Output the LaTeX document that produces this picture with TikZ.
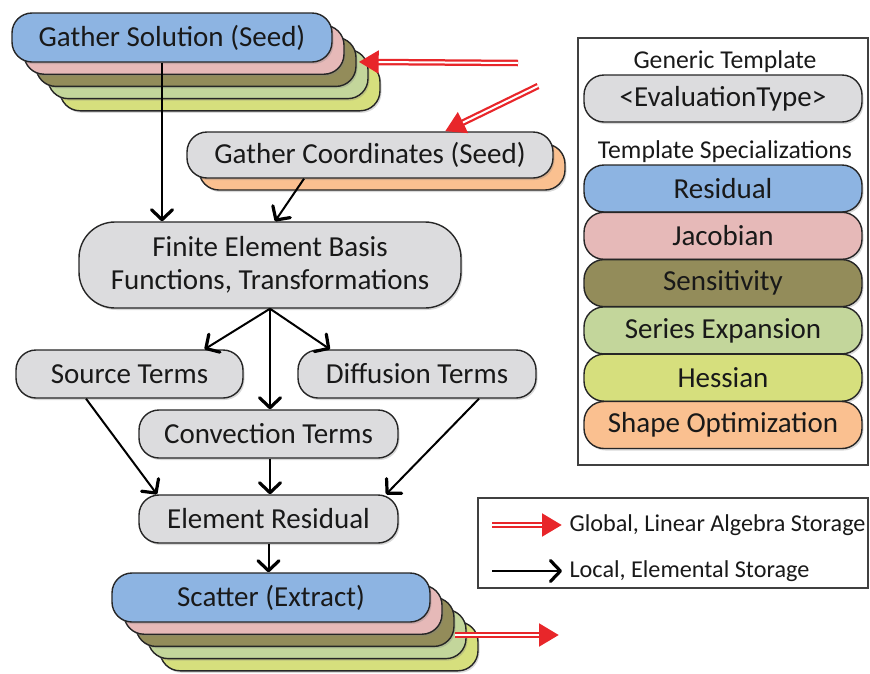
\documentclass[tikz,border=0pt]{standalone}
\usepackage{fontspec}
\setmainfont{Carlito}
\usetikzlibrary{arrows.meta,shadows}
\definecolor{cblue}{HTML}{8DB4E2}
\definecolor{cpink}{HTML}{E6B9B8}
\definecolor{colive}{HTML}{938C5A}
\definecolor{cgreen}{HTML}{C3D69B}
\definecolor{cyellow}{HTML}{D6DF7D}
\definecolor{cpeach}{HTML}{FAC090}
\definecolor{cgray}{HTML}{DCDCDE}
\definecolor{cred}{HTML}{E8262A}
\newcommand\dblred[2]{%
  \draw[cred, line width=6.5pt, -{Triangle[length=20pt,width=22pt]}] (#1) -- (#2);
  \draw[white, line width=2pt, shorten >=20pt] (#1) -- (#2);}
\begin{document}
\begin{tikzpicture}[x=1pt,y=-1pt,
  pill/.style={draw=black!85, line width=1.4pt, rounded corners=20pt, inner sep=0pt,
     font=\fontsize{29}{33}\selectfont, text=black!90,
     drop shadow={shadow xshift=1.5pt,shadow yshift=-2pt,opacity=0.3}},
  lpill/.style={pill, minimum width=278pt, minimum height=47pt},
  blk/.style={draw=black, line width=2pt, -{Straight Barb[length=10pt,width=21pt,line width=3.2pt,round]}},
  hdr/.style={font=\fontsize{25.7}{30}\selectfont, text=black!90},
  leg/.style={font=\fontsize{24.2}{28}\selectfont, text=black!90, anchor=west},
  frame/.style={draw=black!75, line width=1.3pt}]
\useasboundingbox (0,0) rectangle (870,673);

% Gather Solution stack
\foreach \k/\c in {4/cyellow,3/cgreen,2/colive,1/cpink}{
  \node[pill, fill=\c, minimum width=320pt, minimum height=49pt] (gs\k) at (172+12*\k,37.5+12.2*\k) {};
}
\node[pill, fill=cblue, minimum width=320pt, minimum height=49pt] (gs) at (172,37.5) {Gather Solution (Seed)};

% Gather Coordinates
\node[pill, fill=cpeach, minimum width=366pt, minimum height=46pt] (gc1) at (382,167) {};
\node[pill, fill=cgray, minimum width=366pt, minimum height=46pt] (gc) at (370,155) {Gather Coordinates (Seed)};

% Finite element
\node[pill, fill=cgray, rounded corners=36pt, minimum width=382pt, minimum height=86pt, align=center] (fe) at (270,265)
  {Finite Element Basis\\Functions, Transformations};

\node[pill, fill=cgray, minimum width=227pt, minimum height=48pt] (src) at (129.5,374) {Source Terms};
\node[pill, fill=cgray, minimum width=238pt, minimum height=48pt] (dif) at (417,374) {Diffusion Terms};
\node[pill, fill=cgray, minimum width=259pt, minimum height=48pt] (conv) at (268.5,434) {Convection Terms};
\node[pill, fill=cgray, minimum width=259pt, minimum height=48pt] (er) at (268.5,519) {Element Residual};

% Scatter stack
\foreach \k/\c in {4/cyellow,3/cgreen,2/colive,1/cpink}{
  \node[pill, fill=\c, minimum width=318pt, minimum height=49pt] (sc\k) at (271+12*\k,597.5+12.2*\k) {};
}
\node[pill, fill=cblue, minimum width=318pt, minimum height=49pt] (sc) at (271,597.5) {Scatter (Extract)};

% black connectors
\draw[blk] ([xshift=-10pt]gs.south) -- ([xshift=-10pt]gs.south |- fe.north);
\draw[blk] ([xshift=-66pt]gc.south) -- ([xshift=5pt]fe.north);
\draw[blk] (fe.south) -- ([xshift=75pt]src.north);
\draw[blk] (fe.south) -- ([xshift=-87pt]dif.north);
\draw[blk] (fe.south) -- (fe.south |- conv.north);
\draw[blk] ([xshift=-43.5pt]src.south) -- ([xshift=-111.5pt]er.north);
\draw[blk] ([xshift=62pt]dif.south) -- ([xshift=117.5pt]er.north);
\draw[blk] (conv.south -| fe.south) -- (fe.south |- er.north);
\draw[blk] (er.south) -- (er.south |- sc.north);

% red connectors
\coordinate (r1a) at (518,63);
\coordinate (r1b) at ([xshift=2pt]gs2.east);
\dblred{r1a}{r1b}
\coordinate (r2a) at (538,86);
\coordinate (r2b) at ([xshift=75pt]gc.north);
\dblred{r2a}{r2b}
\coordinate (r3a) at (455,635);
\coordinate (r3b) at (559,635);
\dblred{r3a}{r3b}

% legend 1
\draw[frame] (578,38) rectangle (868,465);
\node[hdr] (gt) at (725,62) {Generic Template};
\node[lpill, fill=cgray] (ev) at (723,98.5) {<EvaluationType>};
\node[hdr] (ts) at (725,152) {Template Specializations};
\node[lpill, fill=cblue]  (l1) at (723,188.5) {Residual};
\node[lpill, fill=cpink]  (l2) at (723,235.8) {Jacobian};
\node[lpill, fill=colive] (l3) at (723,283.1) {Sensitivity};
\node[lpill, fill=cgreen] (l4) at (723,330.4) {Series Expansion};
\node[lpill, fill=cyellow](l5) at (723,377.7) {Hessian};
\node[lpill, fill=cpeach] (l6) at (723,425) {Shape Optimization};

% legend 2
\draw[frame] (478,498) rectangle (868,588);
\coordinate (k1a) at (492,525);
\coordinate (k1b) at (562,525);
\dblred{k1a}{k1b}
\node[leg] (t1) at (566,525) {Global, Linear Algebra Storage};
\coordinate (k2a) at (492,571);
\coordinate (k2b) at (562,571);
\draw[blk] (k2a) -- (k2b);
\node[leg] (t2) at (566,571) {Local, Elemental Storage};
\end{tikzpicture}
\end{document}
